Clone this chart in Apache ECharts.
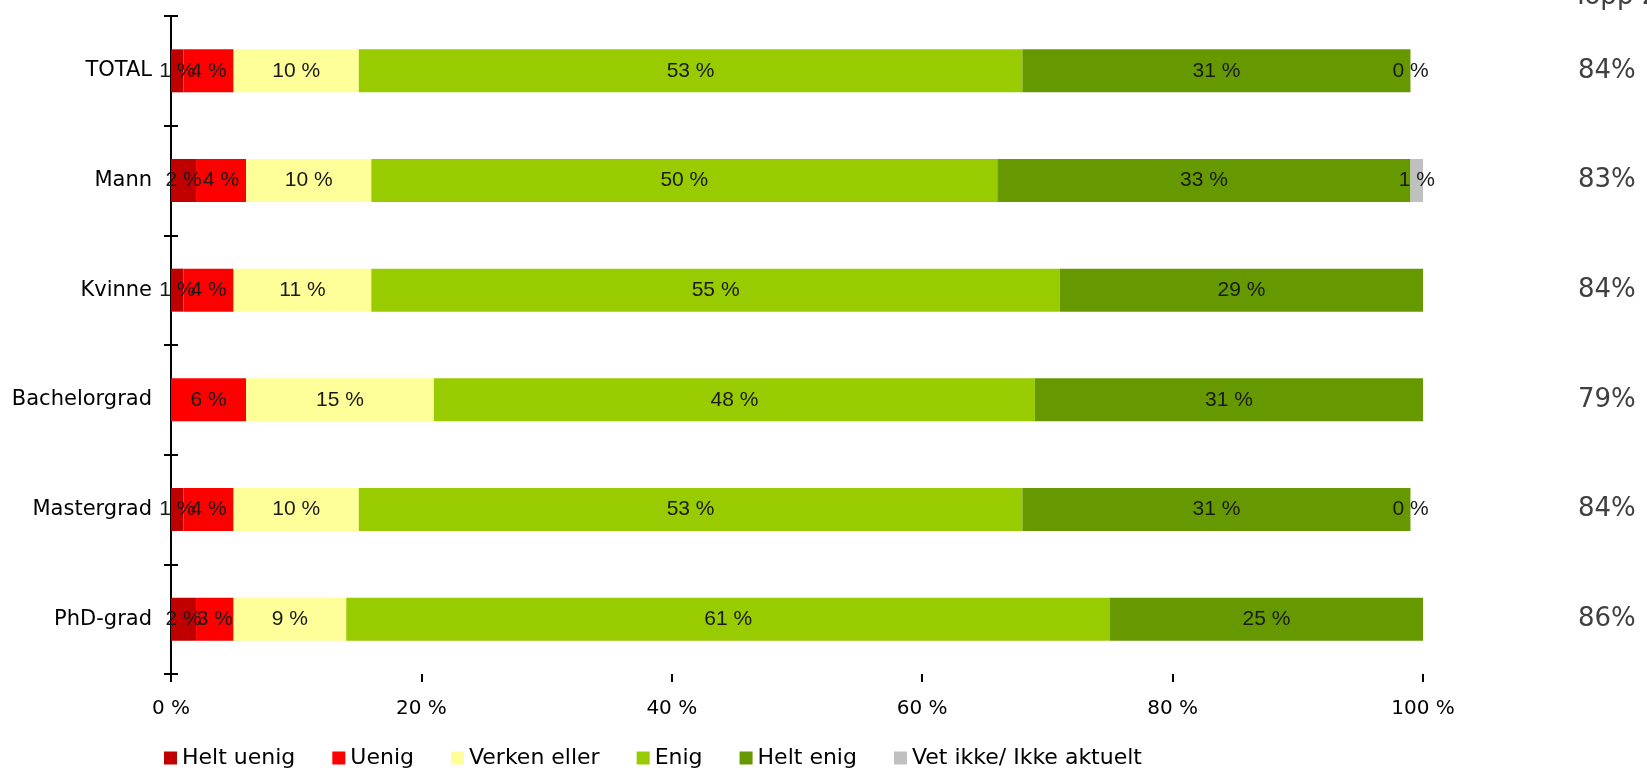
<!DOCTYPE html>
<html>
<head>
<meta charset="utf-8">
<script src="https://cdn.jsdelivr.net/npm/echarts@6/dist/echarts.min.js"></script>
<style>
  html, body { margin: 0; padding: 0; background: #fff; }
  #main { width: 1647px; height: 768px; }
</style>
</head>
<body>
<div id="main"></div>
<script>
// Data
var categories = ['TOTAL', 'Mann', 'Kvinne', 'Bachelorgrad', 'Mastergrad', 'PhD-grad'];
var seriesNames = ['Helt uenig', 'Uenig', 'Verken eller', 'Enig', 'Helt enig', 'Vet ikke/ Ikke aktuelt'];
var heltUenig = [1, 2, 1, null, 1, 2];
var uenig = [4, 4, 4, 6, 4, 3];
var verken = [10, 10, 11, 15, 10, 9];
var enig = [53, 50, 55, 48, 53, 61];
var heltEnig = [31, 33, 29, 31, 31, 25];
var vetIkke = [0, 1, null, null, 0, null];
var topp2 = [84, 83, 84, 79, 84, 86];
var xTicks = [0, 20, 40, 60, 80, 100];

var colors = ['#C00000', '#FF0000', '#FFFF99', '#99CC00', '#669900', '#C0C0C0'];
var values = [heltUenig, uenig, verken, enig, heltEnig, vetIkke];

var myChart = echarts.init(document.getElementById('main'));

var series = seriesNames.map(function (name, i) {
    return {
        name: name,
        type: 'bar',
        stack: 'total',
        barWidth: 43,
        yAxisIndex: 0,
        itemStyle: { color: colors[i] },
        label: {
            show: true,
            position: 'inside',
            formatter: function (p) { return p.value + ' %'; },
            fontFamily: 'Liberation Sans',
            fontSize: 21,
            color: '#1a1a1a'
        },
        emphasis: { disabled: true },
        data: values[i]
    };
});

var option = {
    animation: false,
    title: {
        text: 'Topp 2',
        left: 1568,
        top: -21,
        textStyle: { fontFamily: 'DejaVu Sans', fontSize: 26, fontWeight: 'normal', color: '#404040' }
    },
    legend: {
        data: seriesNames,
        left: 159,
        top: 742,
        itemWidth: 13,
        itemHeight: 13,
        itemGap: 37,
        icon: 'rect',
        textStyle: { fontFamily: 'DejaVu Sans', fontSize: 22, color: '#000' }
    },
    grid: {
        left: 171,
        right: 224,
        top: 16,
        bottom: 94,
        containLabel: false,
        outerBoundsMode: 'none'
    },
    xAxis: {
        type: 'value',
        min: xTicks[0],
        max: xTicks[xTicks.length - 1],
        interval: 20,
        axisLine: { show: false },
        axisTick: { show: true, length: 8, lineStyle: { color: '#000', width: 2 } },
        splitLine: { show: false },
        axisLabel: {
            formatter: '{value} %',
            margin: 25,
            fontFamily: 'DejaVu Sans',
            fontSize: 20,
            color: '#000'
        }
    },
    yAxis: [
        {
            type: 'category',
            data: categories,
            inverse: true,
            position: 'left',
            axisLine: { show: true, lineStyle: { color: '#000', width: 2 } },
            axisTick: { show: true, length: 7, lineStyle: { color: '#000', width: 2 } },
            axisLabel: { margin: 19, fontFamily: 'DejaVu Sans', fontSize: 21, color: '#000' }
        },
        {
            // Topp 2 column on the right
            type: 'category',
            data: categories,
            inverse: true,
            position: 'right',
            axisLine: { show: false },
            axisTick: { show: false },
            axisLabel: {
                margin: 155,
                fontFamily: 'DejaVu Sans',
                fontSize: 26,
                color: '#404040',
                formatter: function (v, i) { return topp2[i] + '%'; }
            }
        },
        {
            // inner half of the crossing ticks
            type: 'category',
            data: categories,
            inverse: true,
            position: 'left',
            axisLine: { show: false },
            axisTick: { show: true, inside: true, length: 7, lineStyle: { color: '#000', width: 2 } },
            axisLabel: { show: false }
        }
    ],
    series: series
};

myChart.setOption(option);
</script>
</body>
</html>
